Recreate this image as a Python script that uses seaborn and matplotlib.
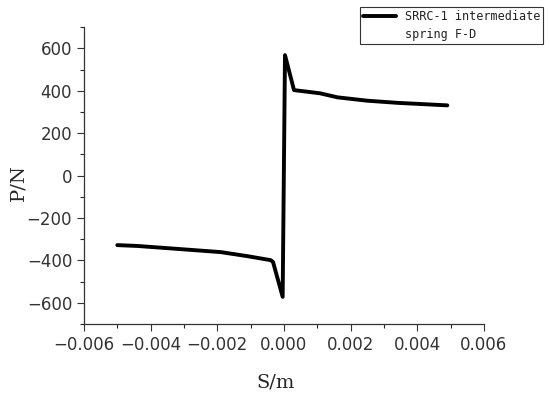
import numpy as np
import pandas as pd
import seaborn as sns
import matplotlib.pyplot as plt
from matplotlib.lines import Line2D
from matplotlib.ticker import MultipleLocator

# displacement (m) and force (N)
s_m = [-0.0050, -0.0044, -0.0031, -0.0019, -0.0011, -0.0004, -0.00033,
       -0.00004, 0.00003, 0.0003, 0.00108, 0.0016, 0.0025, 0.0034, 0.0049]
p_n = [-328, -332, -347, -361, -380, -399, -407,
       -572, 568, 403, 388, 369, 353, 343, 331]

df = pd.DataFrame({'S/m': s_m, 'P/N': p_n})

sns.set_style('ticks')
plt.rcParams['font.family'] = ['DejaVu Sans']

fig = plt.figure(figsize=(5.5, 3.99), dpi=100)
ax = fig.add_axes([0.1527, 0.188, 0.7273, 0.744])
sns.lineplot(data=df, x='S/m', y='P/N', sort=False, estimator=None,
             color='black', linewidth=2.8, ax=ax, legend=False)

ax.set_xlim(-0.006, 0.006)
ax.set_ylim(-700, 700)
ax.xaxis.set_major_locator(MultipleLocator(0.002))
ax.xaxis.set_minor_locator(MultipleLocator(0.001))
ax.yaxis.set_major_locator(MultipleLocator(200))
ax.yaxis.set_minor_locator(MultipleLocator(100))
ax.xaxis.set_major_formatter(plt.FuncFormatter(lambda v, p: f'{v:.3f}'.replace('-', '\u2212')))
ax.tick_params(which='major', direction='out', length=5, width=0.8, labelsize=12, colors='#333333')
ax.tick_params(which='minor', direction='out', length=3, width=0.8)
for sp in ['left', 'bottom']:
    ax.spines[sp].set_color('#333333')
    ax.spines[sp].set_linewidth(0.9)
sns.despine(ax=ax)

ax.set_xlabel('S/m', fontsize=14, family='DejaVu Serif')
ax.set_ylabel('P/N', fontsize=14, family='DejaVu Serif')
ax.xaxis.set_label_coords(0.48, -0.168)
ax.yaxis.set_label_coords(-0.1425, 0.475)

# legend: handle on the first text row only
handles = [Line2D([], [], color='black', linewidth=2.8),
           Line2D([], [], color='none')]
labels = ['SRRC-1 intermediate', 'spring F-D']
leg = ax.legend(handles, labels, loc='upper right', bbox_to_anchor=(0.988, 0.983),
                bbox_transform=fig.transFigure,
                frameon=True, fancybox=False, edgecolor='#333333', framealpha=1,
                prop={'family': 'DejaVu Sans Mono', 'size': 8.5}, handlelength=2.8,
                borderpad=0.25, handletextpad=0.8, labelspacing=0.45, borderaxespad=0)
for t in leg.get_texts():
    t.set_color('#222222')
leg.get_frame().set_linewidth(0.8)

fig.savefig('out.png', dpi=100)
